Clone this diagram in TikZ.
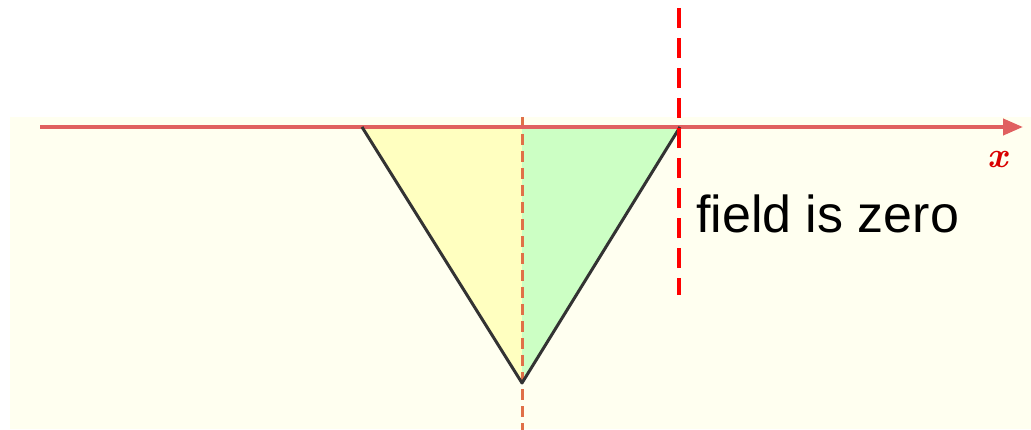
\documentclass[tikz,border=0pt]{standalone}
\usepackage{fontspec}
\setmainfont{Latin Modern Roman}
\newfontfamily\arialfont{Liberation Sans}
\usetikzlibrary{arrows.meta}
\definecolor{bgcol}{HTML}{FFFFF0}
\definecolor{yelcol}{HTML}{FFFFC0}
\definecolor{grncol}{HTML}{CCFFC4}
\definecolor{axiscol}{HTML}{E06060}
\definecolor{midcol}{HTML}{E07048}
\definecolor{edgecol}{HTML}{333333}
\tikzset{
  axisline/.style={draw=axiscol, line width=4pt, -{Triangle[length=20pt,width=16pt]}},
  edgeline/.style={draw=edgecol, line width=3pt, line join=round},
  middash/.style={draw=midcol, line width=3pt, dash pattern=on 11pt off 6pt},
  reddash/.style={draw=red, line width=3.5pt, dash pattern=on 20pt off 10pt},
}
\begin{document}
\begin{tikzpicture}[x=1pt,y=-1pt]
\useasboundingbox (0,0) rectangle (1031,430);
\fill[bgcol] (10,117) rectangle (1031,429);
\coordinate (tl) at (362,127);
\coordinate (tr) at (680,127);
\coordinate (bt) at (522,383);
\coordinate (mt) at (522,127);
\fill[yelcol] (tl) -- (mt) -- (bt) -- cycle;
\fill[grncol] (mt) -- (tr) -- (bt) -- cycle;
\coordinate (mtop) at (522,117);
\coordinate (mbot) at (522,430);
\draw[middash] (mtop) -- (mbot);
\coordinate (ax0) at (40,127);
\coordinate (ax1) at (1023,127);
\draw[axisline] (ax0) -- (ax1);
\draw[edgeline] (tl) -- (bt) -- (tr);
\coordinate (rtop) at (679,8);
\coordinate (rbot) at (679,295);
\draw[reddash] (rtop) -- (rbot);
\node[anchor=base, text=red!85!black, font=\fontsize{36}{40}\selectfont\bfseries\itshape, inner sep=0pt] (xl) at (998,168) {x};
\node[anchor=base west, font=\arialfont\fontsize{52}{60}\selectfont, inner sep=0pt] (fz) at (696,233) {field is zero};
\end{tikzpicture}
\end{document}
